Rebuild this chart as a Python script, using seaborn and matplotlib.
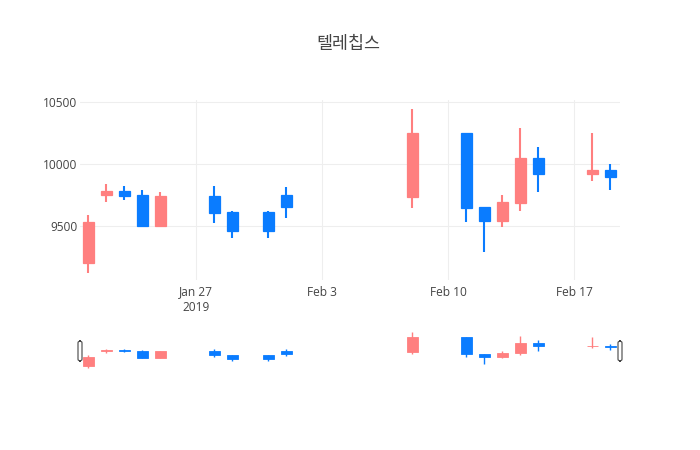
import matplotlib
matplotlib.use("Agg")
import matplotlib.pyplot as plt
import matplotlib.dates as mdates
from matplotlib.patches import FancyBboxPatch
import seaborn as sns
import pandas as pd

# daily prices
dates = ["2019-01-21", "2019-01-22", "2019-01-23", "2019-01-24", "2019-01-25",
         "2019-01-28", "2019-01-29", "2019-01-31", "2019-02-01",
         "2019-02-08", "2019-02-11", "2019-02-12", "2019-02-13", "2019-02-14",
         "2019-02-15", "2019-02-18", "2019-02-19"]
opens = [9200, 9750, 9780, 9750, 9500, 9740, 9610, 9610, 9750,
         9730, 10250, 9650, 9540, 9680, 10050, 9920, 9950]
highs = [9590, 9840, 9820, 9790, 9770, 9820, 9620, 9620, 9810,
         10440, 10250, 9650, 9750, 10290, 10140, 10250, 10000]
lows = [9120, 9690, 9710, 9500, 9500, 9520, 9400, 9400, 9560,
        9640, 9530, 9290, 9490, 9620, 9770, 9860, 9790]
closes = [9530, 9780, 9740, 9500, 9740, 9600, 9460, 9460, 9650,
          10250, 9640, 9540, 9690, 10050, 9920, 9950, 9890]

title = "텔레칩스"
tick_dates = ["2019-01-27", "2019-02-03", "2019-02-10", "2019-02-17"]
tick_labels = ["Jan 27\n2019", "Feb 3", "Feb 10", "Feb 17"]
y_ticks = [9500, 10000, 10500]

up_color = "#ff7f7f"
down_color = "#0a7cff"

df = pd.DataFrame({"date": pd.to_datetime(dates), "open": opens, "high": highs,
                   "low": lows, "close": closes})
df["x"] = mdates.date2num(df["date"])
df["color"] = [up_color if c >= o else down_color for o, c in zip(df["open"], df["close"])]

sns.set_theme(style="white")
plt.rcParams["font.family"] = ["Open Sans", "Noto Sans CJK KR", "DejaVu Sans"]

fig = plt.figure(figsize=(7, 4.5), dpi=100)
ax = fig.add_axes([80 / 700, 170 / 450, 540 / 700, 180 / 450])
slider = fig.add_axes([80 / 700, 80 / 450, 540 / 700, 40 / 450])

x0 = mdates.date2num(pd.Timestamp("2019-01-21")) - 0.45
x1 = mdates.date2num(pd.Timestamp("2019-02-19")) + 0.55
ylo, yhi = 9062, 10516


def draw_candles(a, lw, body_w):
    a.vlines(df["x"], df["low"], df["high"], colors=df["color"], linewidth=lw, zorder=2)
    bottoms = df[["open", "close"]].min(axis=1)
    heights = (df["close"] - df["open"]).abs().clip(lower=8)
    a.bar(df["x"], heights, bottom=bottoms, width=body_w, color=df["color"],
          edgecolor=df["color"], linewidth=lw * 0.6, zorder=3)
    a.set_xlim(x0, x1)
    a.set_ylim(ylo, yhi)
    for s in a.spines.values():
        s.set_visible(False)


draw_candles(ax, 1.5, 0.6)
draw_candles(slider, 1.0, 0.6)

ax.set_xticks(mdates.date2num(pd.to_datetime(tick_dates)))
ax.set_xticklabels(tick_labels, fontsize=8.6, color="#444444", linespacing=1.25)
ax.set_yticks(y_ticks)
ax.set_yticklabels([str(v) for v in y_ticks], fontsize=8.6, color="#444444")
ax.tick_params(axis="both", length=0, pad=4)
ax.tick_params(axis="y", pad=2)
ax.grid(True, color="#eeeeee", linewidth=0.8)
ax.set_axisbelow(True)

slider.set_xticks([])
slider.set_yticks([])

# range slider grips at both ends
for px in (80, 620):
    grip = FancyBboxPatch(((px - 2) / 700, (450 - 361) / 450), 4 / 700, 20 / 450,
                          boxstyle="round,pad=0,rounding_size=0.004",
                          transform=fig.transFigure, facecolor="white",
                          edgecolor="#444444", linewidth=0.8, zorder=5)
    fig.patches.append(grip)

fig.text(0.497, 1 - 44 / 450, title, ha="center", va="center", fontsize=12.5,
         color="#444444", family=["Noto Sans CJK KR", "DejaVu Sans"])

fig.savefig("out.png", dpi=100, facecolor="white")
